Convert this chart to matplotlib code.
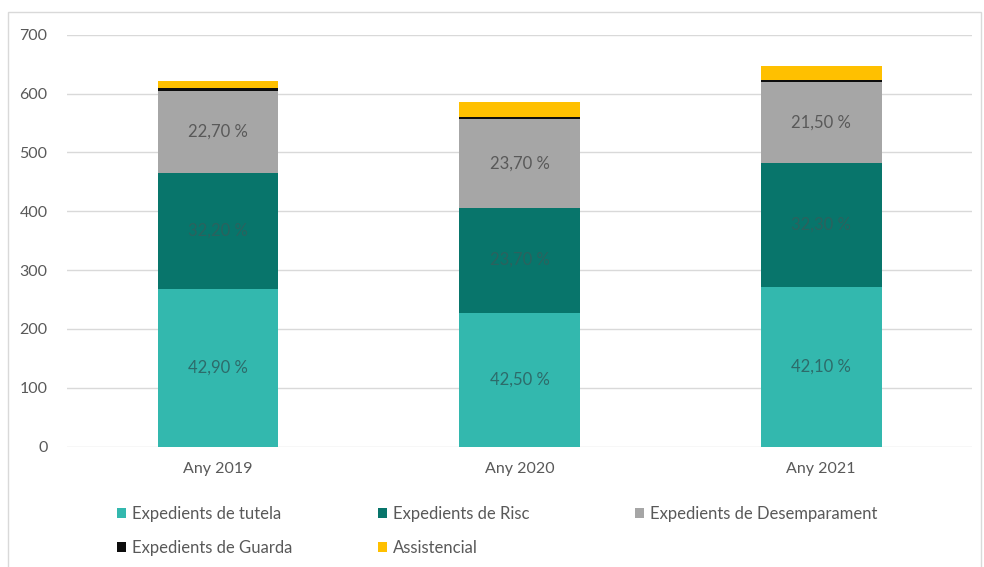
import matplotlib
matplotlib.use("Agg")
import matplotlib.pyplot as plt
from matplotlib.patches import Rectangle
import numpy as np

plt.rcParams['font.family'] = ['Lato', 'DejaVu Sans']

categories = ["Any 2019", "Any 2020", "Any 2021"]
series_names = ["Expedients de tutela", "Expedients de Risc",
                "Expedients de Desemparament", "Expedients de Guarda", "Assistencial"]
tutela = [268, 228, 272]
risc = [197, 178, 210]
desemparament = [140, 151, 138]
guarda = [4, 4, 3]
assistencial = [13, 24, 24]
labels_tutela = ["42,90 %", "42,50 %", "42,10 %"]
labels_risc = ["32,20 %", "23,70 %", "32,30 %"]
labels_desemp = ["22,70 %", "23,70 %", "21,50 %"]
yticks = [0, 100, 200, 300, 400, 500, 600, 700]

colors = ["#33b8ae", "#08756b", "#a6a6a6", "#0d0d0d", "#ffc000"]
label_colors = ["#2d6b6a", "#2b625e", "#595959"]

fig = plt.figure(figsize=(9.84, 5.67), dpi=100)
ax = fig.add_axes([67/984, 1-446.7/567, (972-67)/984, (446.7-34.7)/567])

x = np.arange(len(categories))
data = [tutela, risc, desemparament, guarda, assistencial]
bottom = np.zeros(len(categories))
bars = []
for vals, c, name in zip(data, colors, series_names):
    b = ax.bar(x, vals, 0.4, bottom=bottom, color=c, label=name, zorder=3)
    bars.append(b)
    bottom = bottom + np.array(vals)

for b, labs, lc in zip(bars[:3], [labels_tutela, labels_risc, labels_desemp], label_colors):
    ax.bar_label(b, labels=labs, label_type='center', color=lc, fontsize=12)

ax.set_xlim(-0.5, 2.5)
ax.set_ylim(0, 700)
ax.set_yticks(yticks)
ax.set_xticks(x)
ax.set_xticklabels(categories)
ax.grid(axis='y', color='#d9d9d9', linewidth=1, zorder=0)
ax.set_axisbelow(True)
for s in ax.spines.values():
    s.set_visible(False)
ax.tick_params(axis='both', length=0, colors='#595959', labelsize=11.5)
ax.tick_params(axis='y', pad=14)
ax.tick_params(axis='x', pad=11)

# legend: three columns placed like the reference
columns = [[0, 3], [1, 4], [2]]
col_x = [117, 378, 635]
for idx, cx in zip(columns, col_x):
    leg = fig.legend([bars[i] for i in idx], [series_names[i] for i in idx],
                     loc='upper left', bbox_to_anchor=(cx/984, 1-506/567),
                     frameon=False, borderpad=0, borderaxespad=0,
                     fontsize=12, handlelength=0.55, handleheight=0.55,
                     handletextpad=0.35, labelspacing=1.1, labelcolor='#595959')

fig.patches.append(Rectangle((7.5/984, -0.1), (981-7.5)/984, 1.1-12/567,
                             transform=fig.transFigure, fill=False,
                             edgecolor='#d9d9d9', linewidth=1))

fig.savefig("out.png", dpi=100)
